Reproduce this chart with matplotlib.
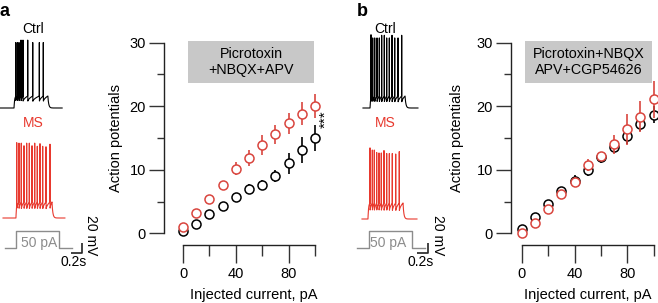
import numpy as np
import matplotlib.pyplot as plt
from matplotlib.patches import Rectangle

plt.rcParams['font.family'] = ['Liberation Sans', 'DejaVu Sans']

# ---- data ----
current = [0, 10, 20, 30, 40, 50, 60, 70, 80, 90, 100]   # injected current, pA

a_ctrl = [0.37, 1.47, 3.09, 4.35, 5.77, 7.03, 7.66, 9.02, 11.0, 13.1, 15.0]
a_ctrl_err = [0.2, 0.3, 0.35, 0.4, 0.6, 0.7, 0.8, 0.9, 1.6, 2.0, 2.0]
a_ms = [0.94, 3.25, 5.4, 7.66, 10.2, 11.85, 13.9, 15.6, 17.3, 18.8, 20.1]
a_ms_err = [0.3, 0.4, 0.45, 0.5, 1.0, 1.3, 1.5, 1.5, 1.6, 1.8, 1.9]

b_ctrl = [0.68, 2.5, 4.6, 6.66, 8.3, 9.96, 11.96, 13.6, 15.3, 17.2, 18.67]
b_ctrl_err = [0.3, 0.4, 0.5, 0.7, 0.9, 1.0, 0.9, 1.0, 1.2, 1.1, 1.3]
b_ms = [0.0, 1.57, 3.83, 6.19, 8.13, 10.75, 12.17, 14.05, 16.36, 18.35, 21.08]
b_ms_err = [0.2, 0.4, 0.5, 0.6, 0.8, 0.9, 0.7, 1.5, 2.4, 2.4, 2.9]

# example traces: spike times (s) and peak potentials (mV)
a_ctrl_spikes = [0.285, 0.315, 0.345, 0.382, 0.418, 0.504, 0.595, 0.715, 0.787]
a_ctrl_peaks = [62, 62, 62, 62, 62, 62, 62, 62, 62]
a_ms_spikes = [0.304, 0.345, 0.387, 0.436, 0.485, 0.533, 0.582, 0.631,
               0.678, 0.727, 0.776, 0.836, 0.909]
a_ms_peaks = [81, 75, 75, 75, 75, 75, 75, 75, 74, 74, 74, 73, 73]
b_ctrl_spikes = [0.291, 0.322, 0.358, 0.400, 0.442, 0.485, 0.533, 0.576,
                 0.624, 0.673, 0.722, 0.782, 0.849]
b_ctrl_peaks = [72, 71, 71, 71, 71, 71, 71, 71, 71, 71, 71, 71, 71]
b_ms_spikes = [0.273, 0.315, 0.351, 0.394, 0.436, 0.478, 0.527, 0.576,
               0.624, 0.678, 0.740, 0.805]
b_ms_peaks = [68, 64, 64, 64, 63, 63, 63, 62, 62, 62, 61, 61]

# current step (s, pA)
a_step_t = [0.09, 0.29, 0.29, 1.08, 1.08, 1.30]
b_step_t = [0.036, 0.26, 0.26, 1.03, 1.03, 1.27]
step_i = [0, 0, 50, 50, 0, 0]

RED = '#e8392e'
MRED = '#d9453e'
GREY = '#8c8c8c'

W, H = 658, 303
fig = plt.figure(figsize=(W / 100, H / 100), dpi=100)


def fx(px):
    return px / W


def fy(py):
    return 1 - py / H


def build_trace(t0, t1, on, off, spikes, peaks, rest, trough, thresh):
    t = np.arange(t0, t1, 0.0004)
    v = np.full(t.shape, float(rest))
    m = (t >= on) & (t < spikes[0])
    v[m] = rest + (thresh - rest) * (1 - np.exp(-(t[m] - on) / 0.01))
    edges = list(spikes) + [off]
    for s, nxt in zip(edges[:-1], edges[1:]):
        m = (t >= s) & (t < nxt)
        frac = (t[m] - s) / (nxt - s)
        v[m] = trough + (thresh - trough) * np.sqrt(frac)
    m = t >= off
    v[m] = rest + (thresh - rest) * np.exp(-(t[m] - off) / 0.015)
    for s, p in zip(spikes, peaks):
        near = np.abs(t - s) < 0.004
        g = np.exp(-((t[near] - s) / 0.001) ** 2)
        v[near] = np.maximum(v[near], trough + (p - trough) * g)
    return t, v


PX_PER_S = 55.0
MV_PER_PX = 1.87


def trace_panel(x0, traces, step_t, pa_text_px, bar_px, lab_px):
    # axes in seconds / mV, placed so the scale bars are true
    ax = fig.add_axes([fx(x0), fy(285), fx(x0 + 110) - fx(x0), fy(20) - fy(285)])
    ax.set_xlim(0, 110 / PX_PER_S)
    ax.set_ylim(-265 * MV_PER_PX, 0)
    ax.axis('off')
    yp = lambda py: -(py - 20) * MV_PER_PX
    tp = lambda px: (px - x0) / PX_PER_S
    for (tr, color, rest_py) in traces:
        t, v = build_trace(*tr)
        ax.plot(t, v - tr[6] + yp(rest_py), color=color, lw=0.8)
    # current step
    k = 17 * MV_PER_PX / 50
    ax.plot(step_t, yp(248.3) + np.array(step_i) * k, color=GREY, lw=1.0)
    fig.text(fx(pa_text_px[0]), fy(pa_text_px[1]), '50 pA', color=GREY,
             fontsize=10, ha='center', va='center')
    # scale bars
    bx, by = bar_px
    ax.plot([tp(bx) - 0.2, tp(bx), tp(bx)], [yp(by), yp(by), yp(by) + 20],
            color='#222222', lw=1.2, solid_capstyle='butt')
    fig.text(fx(bx + 9.5), fy(235), '20 mV', rotation=270, fontsize=10,
             ha='center', va='center')
    fig.text(fx(bx - 8), fy(262.5), '0.2s', fontsize=10, ha='center', va='center')
    fig.text(fx(lab_px), fy(29), 'Ctrl', fontsize=10, ha='center', va='center')
    fig.text(fx(lab_px), fy(123), 'MS', fontsize=10, color=RED,
             ha='center', va='center')


trace_panel(0,
            [((0.0, 1.13, 0.255, 0.87, a_ctrl_spikes, a_ctrl_peaks, -65, -53.8, -42.6), 'black', 108),
             ((0.055, 1.18, 0.29, 0.945, a_ms_spikes, a_ms_peaks, -65, -50, -35), RED, 218)],
            a_step_t, (39.3, 243.3), (81.7, 253.3), 33)
trace_panel(355,
            [((0.145, 1.145, 0.273, 0.91, b_ctrl_spikes, b_ctrl_peaks, -65, -55.6, -42.6), 'black', 108),
             ((0.127, 1.127, 0.236, 0.873, b_ms_spikes, b_ms_peaks, -65, -51.9, -35), RED, 219)],
            b_step_t, (388.3, 243.3), (428.3, 253.3), 385)


def count_panel(left_px, right_px, xlim, ctrl, ctrl_err, ms, ms_err, box_x, box_text,
                ylab_x, xlab_x):
    ax = fig.add_axes([fx(left_px), fy(245), fx(right_px) - fx(left_px), fy(30) - fy(245)])
    ax.set_xlim(*xlim)
    ax.set_ylim(-1.84, 32.0)
    for s in ['top', 'right']:
        ax.spines[s].set_visible(False)
    ax.spines['left'].set_bounds(0, 30)
    ax.spines['bottom'].set_bounds(0, 100)
    for s in ['left', 'bottom']:
        ax.spines[s].set_linewidth(1.0)
        ax.spines[s].set_color('#222222')
    ax.set_xticks([0, 40, 80])
    ax.set_xticks([20, 60, 100], minor=True)
    ax.set_yticks([0, 10, 20, 30])
    ax.set_yticks([5, 15, 25], minor=True)
    ax.tick_params(axis='x', which='major', length=13, width=1.0, pad=3,
                   labelsize=10.5, color='#333333')
    ax.tick_params(axis='x', which='minor', length=8, width=1.0, color='#333333')
    ax.tick_params(axis='y', which='major', length=10.5, width=1.0, pad=2.5,
                   labelsize=10.5, color='#333333')
    ax.tick_params(axis='y', which='minor', length=5.3, width=1.0, color='#333333')

    ax.errorbar(current, ctrl, yerr=ctrl_err, fmt='o', color='black', ecolor='black',
                mfc='white', mec='black', ms=6.5, mew=1.1, elinewidth=1.2,
                capsize=0, clip_on=False, zorder=3)
    ax.errorbar(current, ms, yerr=ms_err, fmt='o', color=MRED, ecolor=MRED,
                mfc='white', mec=MRED, ms=6.5, mew=1.1, elinewidth=1.2,
                capsize=0, clip_on=False, zorder=4)

    ax.add_patch(Rectangle((box_x[0], 23.65), box_x[1] - box_x[0], 6.6,
                           facecolor='#c8c8c8', edgecolor='none', zorder=1, clip_on=False))
    ax.text((box_x[0] + box_x[1]) / 2, 26.95, box_text, ha='center', va='center',
            fontsize=10.3, linespacing=1.25, zorder=2)
    fig.text(fx(ylab_x), fy(138), 'Action potentials', rotation=90, fontsize=10.5,
             ha='center', va='center')
    fig.text(fx(xlab_x), fy(295), 'Injected current, pA', fontsize=10.5,
             ha='center', va='center')
    return ax


ax_a = count_panel(164, 330, (-14.4, 111.4), a_ctrl, a_ctrl_err, a_ms, a_ms_err,
                   (3.8, 99.2), 'Picrotoxin\n+NBQX+APV', 116, 254)
ax_a.text(108.0, 18.0, '***', rotation=90, fontsize=11, ha='center', va='center')

ax_b = count_panel(511, 658, (-8.35, 103.3), b_ctrl, b_ctrl_err, b_ms, b_ms_err,
                   (2.3, 98.7), 'Picrotoxin+NBQX\nAPV+CGP54626', 457, 588)

fig.text(fx(5), fy(12), 'a', fontsize=13, fontweight='bold', ha='center', va='center')
fig.text(fx(362), fy(11), 'b', fontsize=13, fontweight='bold', ha='center', va='center')

fig.savefig('out.png', dpi=100)
